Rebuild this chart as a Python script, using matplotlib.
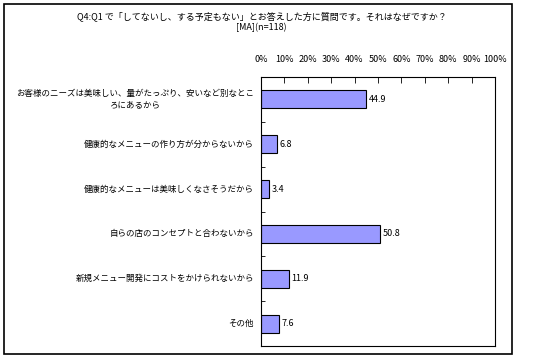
import matplotlib
matplotlib.use('Agg')
import matplotlib.pyplot as plt
from matplotlib.patches import Rectangle

plt.rcParams['font.family'] = ['Noto Sans CJK JP', 'DejaVu Sans']

categories = ['お客様のニーズは美味しい、量がたっぷり、安いなど別なとこ\nろにあるから',
              '健康的なメニューの作り方が分からないから',
              '健康的なメニューは美味しくなさそうだから',
              '自らの店のコンセプトと合わないから',
              '新規メニュー開発にコストをかけられないから',
              'その他']
values = [44.9, 6.8, 3.4, 50.8, 11.9, 7.6]
xticks = list(range(0, 101, 10))
xticklabels = ['%d%%' % t for t in xticks]

W, H = 534, 363
fig = plt.figure(figsize=(W / 100, H / 100), dpi=100)
fig.patch.set_facecolor('white')

# outer frame
fig.patches.append(Rectangle((4 / W, 1 - 354 / H), 508 / W, 350 / H,
                             transform=fig.transFigure, fill=False,
                             edgecolor='black', linewidth=1.2))

fig.text(0.49, 1 - 16 / H, 'Q4:Q1 で「してないし、する予定もない」とお答えした方に質問です。それはなぜですか？',
         ha='center', va='center', fontsize=6.5)
fig.text(0.49, 1 - 28 / H, '[MA](n=118)', ha='center', va='center', fontsize=6.5)

ax = fig.add_axes([261 / W, 1 - 346 / H, 234 / W, 269 / H])
y = list(range(len(categories)))
ax.barh(y, values, height=0.4, color='#9999FF', edgecolor='black', linewidth=0.8)
for yi, v in zip(y, values):
    ax.text(v + 1, yi, '%.1f' % v, va='center', ha='left', fontsize=6.5)

ax.set_xlim(0, 100)
ax.set_ylim(len(categories) - 0.5, -0.5)
ax.xaxis.tick_top()
ax.set_xticks(xticks)
ax.set_xticklabels(xticklabels, fontsize=6.5)
ax.tick_params(axis='x', direction='in', length=4, width=0.6, pad=9)
ax.set_yticks([i + 0.5 for i in range(len(categories) - 1)], minor=False)
ax.set_yticklabels([])
ax.tick_params(axis='y', direction='in', length=3, width=0.6)
for yi, c in zip(y, categories):
    ax.text(-3, yi, c, ha='right', va='center', fontsize=6.1, linespacing=1.3,
            multialignment='center', transform=ax.transData, clip_on=False)
for s in ax.spines.values():
    s.set_linewidth(0.8)

fig.savefig('out.png', dpi=100)
